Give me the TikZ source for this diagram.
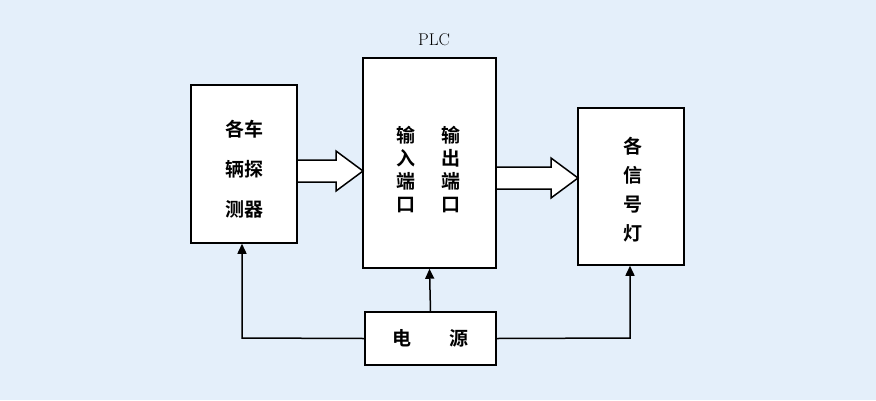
\documentclass[tikz,border=0pt]{standalone}
\usepackage{fontspec}
\newfontfamily\cjk{Noto Sans CJK SC}[BoldFont={Noto Sans CJK SC Bold}]
\usetikzlibrary{arrows.meta}
\begin{document}
\begin{tikzpicture}[x=1pt,y=-1pt,
  box/.style={draw=black,line width=1.5pt,fill=white,inner sep=0pt},
  txt/.style={font=\cjk\bfseries\fontsize{19}{40}\selectfont,align=center},
  conn/.style={line width=1.5pt,-{Triangle[length=10pt,width=9pt]}},
  hollow/.style={draw=black,line width=1.5pt,fill=white}]
\useasboundingbox[fill={rgb,255:red,228;green,239;blue,250}] (0,0) rectangle (876,400);
\node[box,minimum width=106pt,minimum height=158pt] (det) at (244,164) {};
\node[txt] at (244,169) {各车\\辆探\\测器};
\node[box,minimum width=133pt,minimum height=210pt] (plc) at (429.5,163) {};
\node[font=\fontsize{17}{17}\selectfont] (plcl) at (434,40) {PLC};
\node[txt,font=\cjk\bfseries\fontsize{19}{23}\selectfont] (in) at (406,170) {输\\入\\端\\口};
\node[txt,font=\cjk\bfseries\fontsize{19}{23}\selectfont] (out) at (451,170) {输\\出\\端\\口};
\node[box,minimum width=106pt,minimum height=157pt] (lamp) at (631,186.5) {};
\node[txt,font=\cjk\bfseries\fontsize{19}{29}\selectfont] at (633,190) {各\\信\\号\\灯};
\node[box,minimum width=131pt,minimum height=53pt] (pw) at (430.5,338.5) {};
\node[txt] at (pw) {电\hspace{2em}源};
\filldraw[hollow] (297,160) -- (336,160) -- (336,151) -- (363,171) -- (336,191) -- (336,182) -- (297,182) -- cycle;
\filldraw[hollow] (496,167) -- (551,167) -- (551,158) -- (578,178) -- (551,198) -- (551,189) -- (496,189) -- cycle;
\coordinate (c1) at (242,338);
\coordinate (c2) at (630,338);
\draw[conn] (pw.west) -- (c1) -- (det.south -| c1);
\draw[conn] (pw.north) -- (plc.south);
\draw[conn] (pw.east) -- (c2) -- (lamp.south -| c2);
\end{tikzpicture}
\end{document}
